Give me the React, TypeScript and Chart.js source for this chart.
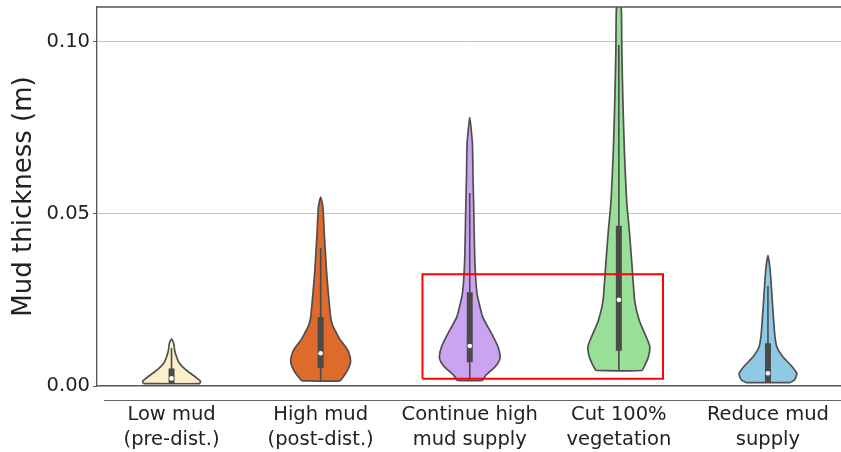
import React, { useEffect, useRef } from 'react';
import { Chart, registerables } from 'chart.js';
Chart.register(...registerables);

// ---- data ----
const categories = [
  ['Low mud', '(pre-dist.)'],
  ['High mud', '(post-dist.)'],
  ['Continue high', 'mud supply'],
  ['Cut 100%', 'vegetation'],
  ['Reduce mud', 'supply'],
];
const yTicks = [0, 0.05, 0.1];

// violin profiles: thickness levels (m) and half-widths (category units)
const lowMudY = [0.0007, 0.0014, 0.0026, 0.004, 0.0055, 0.0069, 0.0084, 0.0103, 0.0123, 0.0137];
const lowMudW = [0.188, 0.194, 0.161, 0.117, 0.076, 0.048, 0.034, 0.021, 0.015, 0];

const highMudY = [0.0015, 0.0037, 0.0055, 0.0074, 0.0098, 0.0113, 0.0132, 0.0153, 0.0176, 0.02, 0.0248, 0.0277, 0.0335, 0.0394, 0.0452, 0.051, 0.0528, 0.0548];
const highMudW = [0.127, 0.168, 0.191, 0.201, 0.188, 0.168, 0.134, 0.107, 0.08, 0.067, 0.056, 0.05, 0.039, 0.031, 0.023, 0.017, 0.012, 0];

const continueY = [0.0016, 0.0031, 0.0055, 0.007, 0.0084, 0.0113, 0.0152, 0.02, 0.0268, 0.0364, 0.051, 0.0606, 0.0703, 0.078];
const continueW = [0.084, 0.107, 0.168, 0.194, 0.204, 0.19, 0.147, 0.087, 0.049, 0.034, 0.027, 0.022, 0.018, 0];

const cutVegY = [0.0045, 0.006, 0.0084, 0.0113, 0.0132, 0.0152, 0.019, 0.0248, 0.0345, 0.0442, 0.0539, 0.0684, 0.0829, 0.0974, 0.109, 0.116];
const cutVegW = [0.154, 0.174, 0.198, 0.208, 0.194, 0.174, 0.137, 0.106, 0.089, 0.072, 0.052, 0.037, 0.027, 0.02, 0.017, 0];

const reduceY = [0.001, 0.0018, 0.0036, 0.006, 0.0084, 0.0113, 0.0152, 0.0248, 0.0336, 0.0379];
const reduceW = [0.147, 0.179, 0.194, 0.154, 0.101, 0.06, 0.045, 0.029, 0.015, 0];

// inner box statistics
const q1 = [0.0007, 0.0053, 0.0069, 0.0102, 0.001];
const medians = [0.0022, 0.0095, 0.0116, 0.025, 0.0037];
const q3 = [0.0051, 0.02, 0.0272, 0.0465, 0.0124];
const whiskerLo = [0.0007, 0.0015, 0.0016, 0.0045, 0.001];
const whiskerHi = [0.011, 0.04, 0.056, 0.099, 0.029];

// highlight rectangle (data coordinates)
const highlightX = [1.683, 3.296, 3.296, 1.683, 1.683];
const highlightY = [0.0021, 0.0021, 0.0324, 0.0324, 0.0021];

const violinColors = ['#fcefca', '#de6a2b', '#cba4f1', '#98df98', '#8ecae6'];
const outline = '#4f4f4f';

const profiles: [number[], number[]][] = [
  [lowMudY, lowMudW],
  [highMudY, highMudW],
  [continueY, continueW],
  [cutVegY, cutVegW],
  [reduceY, reduceW],
];

function violinPoints(i: number, ys: number[], ws: number[]) {
  const pts: { x: number; y: number }[] = [];
  const n = ys.length;
  for (let j = 0; j < n; j++) pts.push({ x: i - ws[j], y: ys[j] });
  for (let j = n - 2; j >= 0; j--) pts.push({ x: i + ws[j], y: ys[j] });
  pts.push({ x: i - ws[0], y: ys[0] });
  return pts;
}

const spinePlugin = {
  id: 'spines',
  afterDraw(chart: any) {
    const { ctx, chartArea } = chart;
    const { left, right, top, bottom } = chartArea;
    ctx.save();
    ctx.strokeStyle = '#555';
    ctx.lineWidth = 1.3;
    ctx.beginPath();
    ctx.moveTo(left, top);
    ctx.lineTo(right, top);
    ctx.stroke();
    ctx.lineWidth = 1.2;
    ctx.strokeStyle = '#666';
    ctx.beginPath();
    ctx.moveTo(left + 7, bottom + 14.5);
    ctx.lineTo(right, bottom + 14.5);
    ctx.stroke();
    ctx.restore();
  },
};

export default function App() {
  const ref = useRef<HTMLCanvasElement>(null);
  useEffect(() => {
    if (!ref.current) return;
    Chart.defaults.font.family = "'DejaVu Sans', sans-serif";
    const datasets: any[] = [];
    datasets.push({
      type: 'line',
      data: highlightX.map((x, j) => ({ x, y: highlightY[j] })),
      borderColor: '#ff0000',
      borderWidth: 2,
      borderJoinStyle: 'miter',
      pointRadius: 0,
      fill: false,
      tension: 0,
      order: 0,
    });
    datasets.push({
      type: 'scatter',
      data: medians.map((m, i) => ({ x: i, y: m })),
      pointRadius: 2.3,
      pointBackgroundColor: '#ffffff',
      pointBorderWidth: 0,
      showLine: false,
      order: 1,
    });
    profiles.forEach(([ys, ws], i) => {
      datasets.push({
        type: 'line',
        data: [{ x: i, y: q1[i] }, { x: i, y: q3[i] }],
        borderColor: '#4a4a4a',
        borderWidth: 6,
        borderCapStyle: 'butt',
        pointRadius: 0,
        fill: false,
        order: 2,
      });
      datasets.push({
        type: 'line',
        data: [{ x: i, y: whiskerLo[i] }, { x: i, y: whiskerHi[i] }],
        borderColor: '#4a4a4a',
        borderWidth: 1.6,
        pointRadius: 0,
        fill: false,
        order: 3,
      });
      datasets.push({
        type: 'line',
        data: violinPoints(i, ys, ws),
        fill: 'shape',
        backgroundColor: violinColors[i],
        borderColor: outline,
        borderWidth: 1.7,
        borderJoinStyle: 'round',
        pointRadius: 0,
        tension: 0.15,
        order: 4,
      });
    });

    const chart = new Chart(ref.current, {
      type: 'line',
      data: { datasets },
      options: {
        animation: false,
        responsive: true,
        maintainAspectRatio: false,
        layout: { autoPadding: false, padding: { top: 7, left: 0, right: 0, bottom: 0 } },
        plugins: { legend: { display: false }, tooltip: { enabled: false } },
        scales: {
          x: {
            type: 'linear',
            min: -0.5,
            max: 4.49,
            afterBuildTicks: (s: any) => {
              s.ticks = categories.map((_, i) => ({ value: i }));
            },
            afterFit: (s: any) => {
              s.height = 66;
              s.paddingLeft = 0;
              s.paddingRight = 0;
              s.paddingTop = 0;
              s.paddingBottom = 0;
            },
            ticks: {
              callback: (_v: any, idx: number) => categories[idx],
              font: { size: 19.5, lineHeight: 1.28 },
              color: '#222',
              padding: 16,
              maxRotation: 0,
              autoSkip: false,
            },
            grid: { display: false, drawTicks: false },
            border: { display: true, color: '#555', width: 1.3 },
          },
          y: {
            type: 'linear',
            min: 0,
            max: 0.11,
            afterBuildTicks: (s: any) => {
              s.ticks = yTicks.map((v) => ({ value: v }));
            },
            afterFit: (s: any) => {
              s.width = 97;
              s.paddingLeft = 0;
              s.paddingRight = 0;
              s.paddingTop = 0;
              s.paddingBottom = 0;
            },
            ticks: {
              callback: (v: any) => Number(v).toFixed(2),
              font: { size: 19.5 },
              color: '#222',
              padding: 3,
            },
            grid: { color: '#c4c4c4', lineWidth: 1, tickColor: '#555', tickLength: 4, drawTicks: true },
            border: { display: true, color: '#555', width: 1.3 },
            title: {
              display: true,
              text: 'Mud thickness (m)',
              font: { size: 26, lineHeight: 1.2 },
              color: '#222',
              padding: { top: 9, bottom: 0 },
            },
          },
        },
      },
      plugins: [spinePlugin],
    } as any);
    return () => chart.destroy();
  }, []);
  return (
    <div style={{ position: 'absolute', left: 0, top: 0, width: 841, height: 452 }}>
      <canvas ref={ref} />
    </div>
  );
}
